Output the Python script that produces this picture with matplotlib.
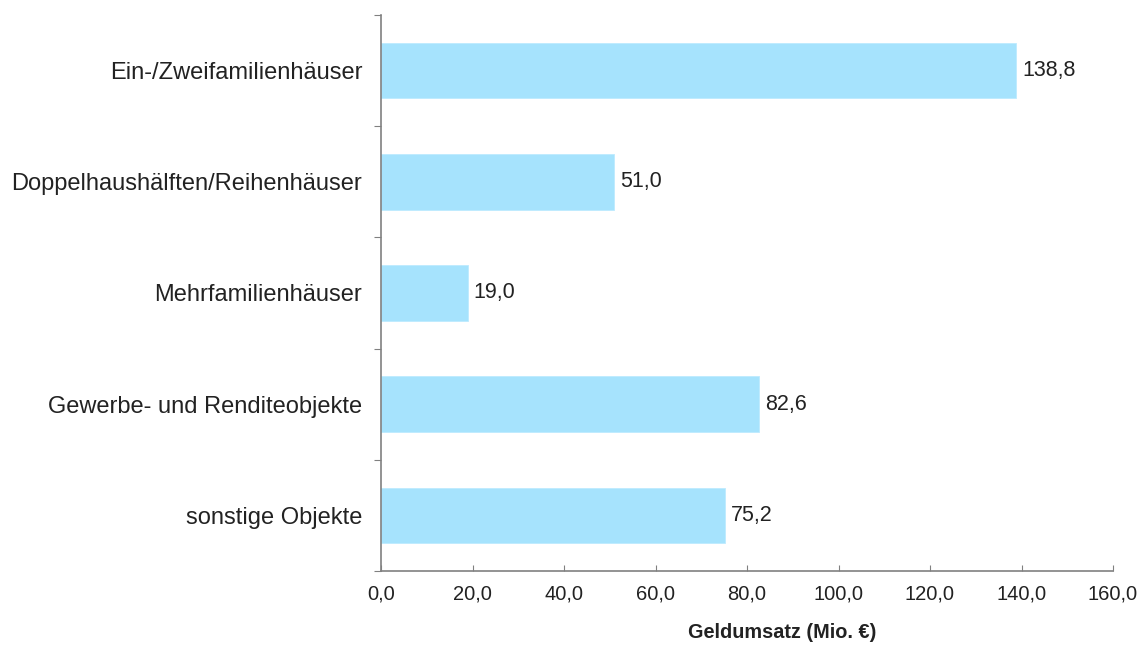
import matplotlib
matplotlib.use("Agg")
import matplotlib.pyplot as plt
from matplotlib.ticker import FuncFormatter

categories = ["Ein-/Zweifamilienhäuser", "Doppelhaushälften/Reihenhäuser",
              "Mehrfamilienhäuser", "Gewerbe- und Renditeobjekte", "sonstige Objekte"]
values = [138.8, 51.0, 19.0, 82.6, 75.2]
xticks = [0, 20, 40, 60, 80, 100, 120, 140, 160]

plt.rcParams['font.family'] = ['Liberation Sans', 'DejaVu Sans']

fig = plt.figure(figsize=(11.44, 6.46), dpi=100)
ax = fig.add_axes([381/1144, 1-571/646, (1113-381)/1144, (571-15)/646])

pos = list(range(len(categories)))
ax.barh(pos, values, height=0.5, color="#A6E3FD", edgecolor="#BDEBFF", linewidth=0.6)
for p, v in zip(pos, values):
    ax.text(v + 1.3, p, f"{v:.1f}".replace(".", ","), va="center", ha="left", fontsize=15.5, color="#222222")

ax.set_ylim(len(categories) - 0.5, -0.5)
ax.set_xlim(0, 160)
ax.set_xticks(xticks)
ax.xaxis.set_major_formatter(FuncFormatter(lambda x, _: f"{x:.1f}".replace(".", ",")))
ax.tick_params(axis="x", direction="in", length=4, color="#808080", labelsize=14.5, labelcolor="#222222", pad=10)

ax.set_yticks([i - 0.5 for i in range(len(categories) + 1)])
ax.set_yticklabels([])
ax.tick_params(axis="y", which="major", direction="out", length=5, color="#808080")
ax.set_yticks(pos, minor=True)
ax.set_yticklabels(categories, minor=True, fontsize=17, color="#222222")
ax.tick_params(axis="y", which="minor", length=0, pad=13.5)

for s in ["top", "right"]:
    ax.spines[s].set_visible(False)
for s in ["left", "bottom"]:
    ax.spines[s].set_color("#808080")
    ax.spines[s].set_linewidth(1.2)

ax.set_xlabel("Geldumsatz (Mio. €)", fontweight="bold", fontsize=14.3, color="#222222")
ax.xaxis.label.set_verticalalignment("center")
ax.xaxis.set_label_coords((782 - 381) / 732, -(633 - 571) / 556)

fig.savefig("out.png", dpi=100)
